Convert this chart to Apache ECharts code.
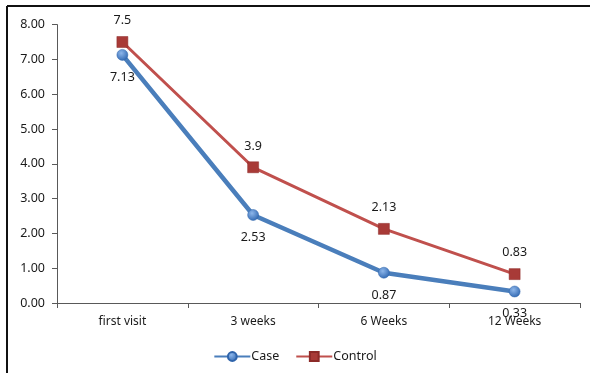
<!DOCTYPE html>
<html><head><meta charset="utf-8">
<script src="https://cdn.jsdelivr.net/npm/echarts@6/dist/echarts.min.js"></script>
<style>html,body{margin:0;padding:0;background:#fff}#c{width:590px;height:373px}</style>
</head><body><div id="c"></div>
<script>
const categories = ['first visit', '3 weeks', '6 Weeks', '12 Weeks'];
const caseValues = [7.13, 2.53, 0.87, 0.33];
const controlValues = [7.5, 3.9, 2.13, 0.83];
const yTicks = {min: 0, max: 8, interval: 1};

const chart = echarts.init(document.getElementById('c'), null, {renderer: 'canvas'});
const font = 'Noto Sans';
chart.setOption({
  animation: false,
  backgroundColor: '#fff',
  grid: {left: 57, right: 10, top: 24.6, bottom: 70, containLabel: false},
  xAxis: {
    type: 'category', data: categories, boundaryGap: true,
    axisLine: {lineStyle: {color: '#595959', width: 1}},
    axisTick: {show: true, length: 5, inside: false, lineStyle: {color: '#595959'}},
    axisLabel: {color: '#1a1a1a', fontFamily: font, fontSize: 12, margin: 13}
  },
  yAxis: {
    type: 'value', min: yTicks.min, max: yTicks.max, interval: yTicks.interval,
    splitLine: {show: false},
    axisLine: {show: true, lineStyle: {color: '#595959', width: 1}},
    axisTick: {show: true, length: 5, lineStyle: {color: '#595959'}},
    axisLabel: {color: '#1a1a1a', fontFamily: font, fontSize: 12.5, margin: 12,
      formatter: v => v.toFixed(2)}
  },
  legend: {
    bottom: 5, left: 'center', itemWidth: 36, itemHeight: 11, itemGap: 16,
    textStyle: {color: '#1a1a1a', fontFamily: font, fontSize: 12.5, padding: [0,0,0,-4]},
    data: ['Case', 'Control']
  },
  series: [
    {
      name: 'Case', type: 'line', data: caseValues,
      symbol: 'circle', symbolSize: 11,
      lineStyle: {color: '#4a7ebb', width: 4.5},
      itemStyle: {color: new echarts.graphic.RadialGradient(0.4, 0.35, 0.7, [
        {offset: 0, color: '#8db6ea'}, {offset: 1, color: '#2e66b0'}]), borderColor: '#2f64ab', borderWidth: 0.5},
      label: {show: true, position: 'bottom', distance: 10, color: '#1a1a1a', fontFamily: font, fontSize: 12.5},
      z: 2
    },
    {
      name: 'Control', type: 'line', data: controlValues,
      symbol: 'rect', symbolSize: 11,
      lineStyle: {color: '#c0504d', width: 3},
      itemStyle: {color: '#a83a37', borderColor: '#8c2a28', borderWidth: 0.5},
      label: {show: true, position: 'top', distance: 9, color: '#1a1a1a', fontFamily: font, fontSize: 12.5},
      z: 3
    }
  ],
  graphic: [
    {type: 'line', shape: {x1: 7, y1: 6, x2: 590, y2: 6}, style: {stroke: '#111', lineWidth: 2}, silent: true},
    {type: 'line', shape: {x1: 7, y1: 6, x2: 7, y2: 373}, style: {stroke: '#111', lineWidth: 2}, silent: true}
  ]
});
</script></body></html>
